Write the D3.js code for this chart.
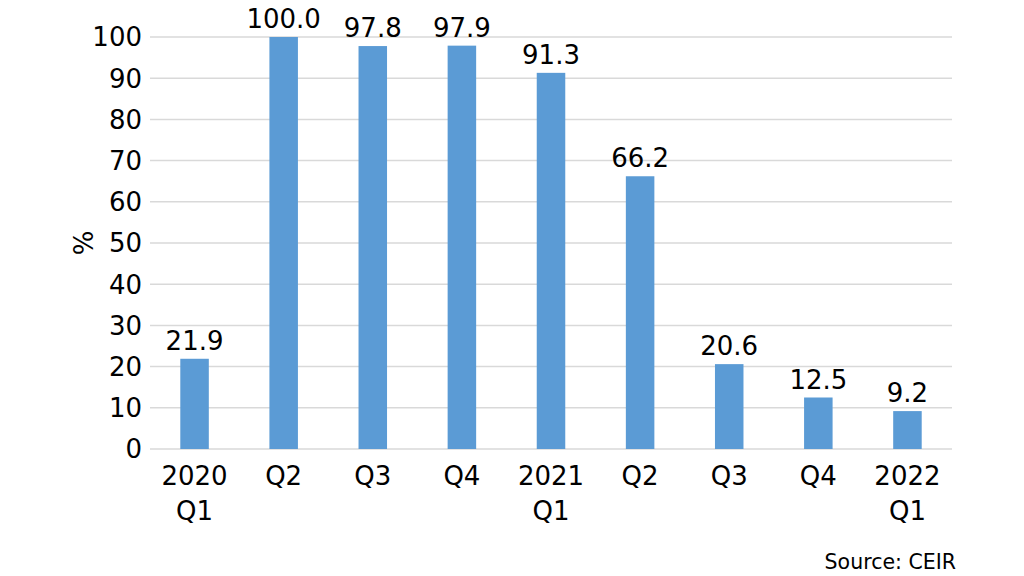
<!DOCTYPE html>
<html><head><meta charset="utf-8">
<script src="https://cdn.jsdelivr.net/npm/d3@7"></script>
<style>body{margin:0;background:#fff}text{font-family:"DejaVu Sans",sans-serif;fill:#000}</style>
</head><body><svg id="c" width="1024" height="576"></svg>
<script>
const categories = ["2020\nQ1","Q2","Q3","Q4","2021\nQ1","Q2","Q3","Q4","2022\nQ1"];
const values = [21.9,100.0,97.8,97.9,91.3,66.2,20.6,12.5,9.2];
const yTicks = [0,10,20,30,40,50,60,70,80,90,100];

const svg = d3.select("#c");
const x = d3.scaleBand().domain(d3.range(categories.length)).range([150,952]).paddingInner(0.68).paddingOuter(0.34);
const y = d3.scaleLinear().domain([0,100]).range([449,37]);

// gridlines
svg.append("g").selectAll("line").data(yTicks).join("line")
  .attr("x1",150).attr("x2",952).attr("y1",d=>y(d)).attr("y2",d=>y(d))
  .attr("stroke","#d9d9d9").attr("stroke-width",1.5);

// y tick labels
svg.append("g").selectAll("text").data(yTicks).join("text")
  .attr("x",142).attr("y",d=>y(d)).attr("dy","0.36em").attr("text-anchor","end")
  .style("font-size","26px").text(d=>d);

// bars
svg.append("g").selectAll("rect").data(values).join("rect")
  .attr("x",(d,i)=>x(i)).attr("width",x.bandwidth())
  .attr("y",d=>y(d)).attr("height",d=>y(0)-y(d)).attr("fill","#5b9bd5");

// value labels
svg.append("g").selectAll("text").data(values).join("text")
  .attr("x",(d,i)=>x(i)+x.bandwidth()/2).attr("y",d=>y(d)-9).attr("text-anchor","middle")
  .style("font-size","26px").text(d=>d.toFixed(1));

// x labels
const xl = svg.append("g").selectAll("text").data(categories).join("text")
  .attr("text-anchor","middle").style("font-size","26px");
xl.each(function(d,i){
  const t=d3.select(this);
  d.split("\n").forEach((s,j)=>{
    t.append("tspan").attr("x",x(i)+x.bandwidth()/2).attr("y",485+j*35).text(s);
  });
});

// y title
svg.append("text").attr("transform","translate(93,243) rotate(-90)").attr("text-anchor","middle")
  .style("font-size","26px").text("%");

// source
svg.append("text").attr("x",956).attr("y",569).attr("text-anchor","end").style("font-size","20.5px").text("Source: CEIR");
</script></body></html>
